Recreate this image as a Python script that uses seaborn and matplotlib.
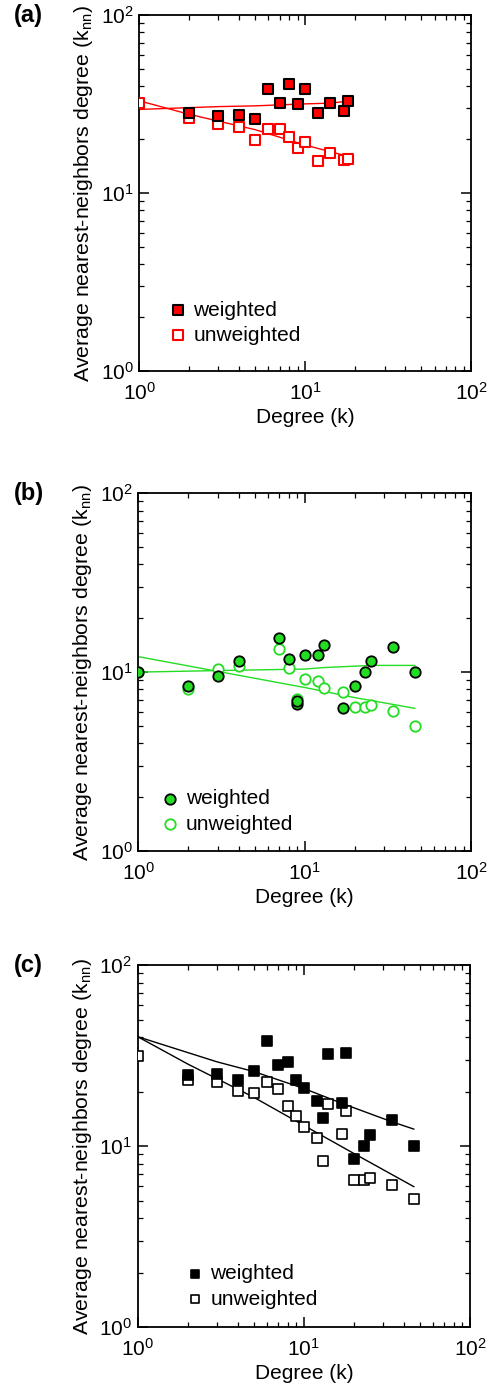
import numpy as np
import pandas as pd
import matplotlib
matplotlib.use("Agg")
import matplotlib.pyplot as plt
import seaborn as sns
from matplotlib.ticker import LogLocator, NullFormatter

# ---------------- data ----------------
# panel (a)
a_w_x = [2, 3, 4, 5, 6, 7, 8, 9, 10, 12, 14, 17, 18]
a_w_y = [28.3, 27.2, 27.6, 26.1, 38.5, 32.2, 40.8, 31.6, 38.5, 28.2, 32.2, 28.8, 32.8]
a_u_x = [1, 2, 3, 4, 5, 6, 7, 8, 9, 10, 12, 14, 17, 18]
a_u_y = [32.1, 26.4, 24.5, 23.5, 19.8, 22.8, 22.8, 20.6, 17.9, 19.3, 15.1, 16.9, 15.3, 15.6]
a_wfit_x = [1, 3, 5, 7, 10, 14, 18]
a_wfit_y = [29.5, 30.6, 30.9, 31.3, 31.7, 32.0, 32.8]
a_ufit_x = [1, 2, 5, 10, 18]
a_ufit_y = [33.0, 27.7, 22.7, 18.6, 16.1]

# panel (b)
b_w_x = [1, 2, 3, 4, 7, 8, 9, 9, 10, 12, 13, 17, 20, 23, 25, 34, 46]
b_w_y = [10.0, 8.4, 9.46, 11.5, 15.6, 11.9, 6.65, 6.85, 12.4, 12.4, 14.2, 6.27, 8.4, 9.96, 11.5, 13.9, 10.0]
b_u_x = [1, 2, 3, 4, 7, 8, 9, 10, 12, 13, 17, 20, 23, 25, 34, 46]
b_u_y = [10.0, 8.07, 10.4, 10.8, 13.4, 10.6, 7.06, 9.2, 8.87, 8.2, 7.77, 6.35, 6.35, 6.59, 6.03, 5.01]
b_wfit_x = [1, 3, 10, 13, 25, 46]
b_wfit_y = [10.0, 10.2, 10.4, 10.6, 10.9, 10.9]
b_ufit_x = [1, 4, 10, 20, 46]
b_ufit_y = [12.2, 9.6, 8.2, 7.2, 6.27]

# panel (c)
c_w_x = [2, 3, 4, 5, 6, 7, 8, 9, 10, 12, 13, 14, 17, 18, 20, 23, 25, 34, 46]
c_w_y = [24.7, 25.1, 23.2, 26.0, 38.2, 28.1, 29.0, 23.2, 21.0, 17.7, 14.2, 32.1, 17.4, 32.5, 8.47, 10.0, 11.5, 14.0, 10.0]
c_u_x = [1, 2, 3, 4, 5, 6, 7, 8, 9, 10, 12, 13, 14, 17, 18, 20, 23, 25, 34, 46]
c_u_y = [31.5, 23.2, 22.6, 20.1, 19.7, 22.6, 20.6, 16.7, 14.6, 12.7, 11.1, 8.3, 17.0, 11.7, 15.7, 6.46, 6.46, 6.68, 6.1, 5.12]
c_wfit_x = [1, 3, 5, 10, 17, 34, 46]
c_wfit_y = [40.2, 29.2, 25.8, 20.8, 17.2, 13.6, 12.4]
c_ufit_x = [1, 2, 5, 10, 20, 46]
c_ufit_y = [40.2, 28.4, 18.6, 13.0, 9.1, 5.96]

labels = ["weighted", "unweighted"]
panel_tags = ["(a)", "(b)", "(c)"]
x_label = "Degree (k)"
y_label = "Average nearest-neighbors degree (k$_\\mathregular{nn}$)"

# ---------------- style ----------------
sns.set_theme(style="white")
plt.rcParams["font.family"] = ["Liberation Sans", "DejaVu Sans"]
plt.rcParams["mathtext.fontset"] = "custom"
plt.rcParams["mathtext.rm"] = "Liberation Sans"
plt.rcParams["mathtext.it"] = "Liberation Sans:italic"
plt.rcParams["mathtext.bf"] = "Liberation Sans:bold"
for k in ["text.color", "axes.labelcolor", "xtick.color", "ytick.color", "axes.edgecolor"]:
    plt.rcParams[k] = "black"

RED = "#ff0000"
GREEN = "#22dd22"
BLACK = "#000000"
FS = 15

fig = plt.figure(figsize=(4.96, 13.95), dpi=100)
positions = [
    [0.2805, 0.7340, 0.670, 0.2552],
    [0.2790, 0.3900, 0.671, 0.2564],
    [0.2776, 0.0487, 0.670, 0.2595],
]

panels = [
    dict(wx=a_w_x, wy=a_w_y, ux=a_u_x, uy=a_u_y, wfx=a_wfit_x, wfy=a_wfit_y,
         ufx=a_ufit_x, ufy=a_ufit_y, color=RED, marker="s",
         w_face=RED, w_edge=BLACK, u_face="white", u_edge=RED, ms=7.0, ew=1.5,
         leg=(0.06, 0.05), mscale=1.0),
    dict(wx=b_w_x, wy=b_w_y, ux=b_u_x, uy=b_u_y, wfx=b_wfit_x, wfy=b_wfit_y,
         ufx=b_ufit_x, ufy=b_ufit_y, color=GREEN, marker="o",
         w_face=GREEN, w_edge=BLACK, u_face="white", u_edge=GREEN, ms=7.5, ew=1.3,
         leg=(0.04, 0.025), mscale=1.0),
    dict(wx=c_w_x, wy=c_w_y, ux=c_u_x, uy=c_u_y, wfx=c_wfit_x, wfy=c_wfit_y,
         ufx=c_ufit_x, ufy=c_ufit_y, color=BLACK, marker="s",
         w_face=BLACK, w_edge=BLACK, u_face="white", u_edge=BLACK, ms=7.0, ew=1.2,
         leg=(0.115, 0.028), mscale=0.8),
]

for i, (pos, p) in enumerate(zip(positions, panels)):
    ax = fig.add_axes(pos)
    ax.set_xscale("log")
    ax.set_yscale("log")

    dfw = pd.DataFrame({"x": p["wfx"], "y": p["wfy"]})
    dfu = pd.DataFrame({"x": p["ufx"], "y": p["ufy"]})
    sns.lineplot(data=dfw, x="x", y="y", ax=ax, color=p["color"], lw=1.0,
                 estimator=None, sort=True, legend=False, zorder=2)
    sns.lineplot(data=dfu, x="x", y="y", ax=ax, color=p["color"], lw=1.0,
                 estimator=None, sort=True, legend=False, zorder=2)

    s = p["ms"] ** 2
    sns.scatterplot(x=p["wx"], y=p["wy"], ax=ax, marker=p["marker"], s=s,
                    color=p["w_face"], edgecolor=p["w_edge"], linewidth=p["ew"],
                    label=labels[0], zorder=4)
    sns.scatterplot(x=p["ux"], y=p["uy"], ax=ax, marker=p["marker"], s=s,
                    color=p["u_face"], edgecolor=p["u_edge"], linewidth=p["ew"],
                    label=labels[1], zorder=3)

    ax.set_xlim(1, 100)
    ax.set_ylim(1, 100)
    ax.xaxis.set_major_locator(LogLocator(base=10, numticks=10))
    ax.yaxis.set_major_locator(LogLocator(base=10, numticks=10))
    ax.xaxis.set_minor_locator(LogLocator(base=10, subs=np.arange(2, 10), numticks=10))
    ax.yaxis.set_minor_locator(LogLocator(base=10, subs=np.arange(2, 10), numticks=10))
    ax.xaxis.set_minor_formatter(NullFormatter())
    ax.yaxis.set_minor_formatter(NullFormatter())

    ax.tick_params(which="both", direction="in", top=True, right=True,
                   bottom=True, left=True, colors="black", labelsize=FS)
    ax.tick_params(which="major", length=7, width=1.1)
    ax.tick_params(axis="x", which="major", pad=8)
    ax.tick_params(axis="y", which="major", pad=4)
    ax.tick_params(which="minor", length=3.5, width=0.9)
    for sp in ax.spines.values():
        sp.set_visible(True)
        sp.set_color("black")
        sp.set_linewidth(1.3)

    ax.set_xlabel(x_label, fontsize=FS, labelpad=3, color="black")
    ax.set_ylabel(y_label, fontsize=15.3, labelpad=4, color="black")
    ax.grid(False)

    leg = ax.legend(loc="lower left", bbox_to_anchor=p["leg"], frameon=False,
                    fontsize=FS, handletextpad=0.25, labelspacing=0.3,
                    borderaxespad=0.0, handlelength=1.0, markerscale=p["mscale"])
    for t in leg.get_texts():
        t.set_color("black")

    fig.text(0.028, pos[1] + pos[3], panel_tags[i], fontsize=17, fontweight="bold",
             ha="left", va="center", color="black")

fig.savefig("out.png", dpi=100)
